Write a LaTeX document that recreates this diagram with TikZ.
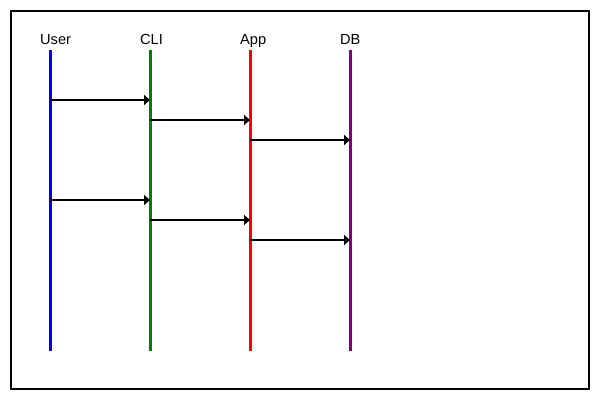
\documentclass[tikz,border=0pt]{standalone}
\usepackage{fontspec}
\setmainfont{Liberation Sans}
\usetikzlibrary{arrows.meta}
\definecolor{cligreen}{rgb}{0,0.5,0}
\definecolor{dbpurple}{rgb}{0.5,0,0.5}
\tikzset{lifeline/.style={line width=3pt},
  msg/.style={line width=2pt,-{Triangle[length=6pt,width=10pt]}},
  actor/.style={anchor=base west,inner sep=0pt,font=\fontsize{14.6}{17}\selectfont}}

\begin{document}
\begin{tikzpicture}[x=1pt,y=-1pt]
  \useasboundingbox (0,0) rectangle (600,400);
  \draw[line width=2pt] (11,11) rectangle (589,389);
  \foreach \name/\lbl/\x/\col in {user/User/50/blue,cli/CLI/150/cligreen,app/App/250/red,db/DB/350/dbpurple}{
    \node[actor] (\name) at (\x-10,44) {\lbl};
    \coordinate (\name top) at (\x,50);
    \coordinate (\name bot) at (\x,351);
    \draw[lifeline,\col] (\name top) -- (\name bot);
  }
  \foreach \a/\b/\y in {user/cli/100,cli/app/120,app/db/140,user/cli/200,cli/app/220,app/db/240}{
    \coordinate (m\y from) at (\a top |- 0,\y);
    \coordinate (m\y to) at (\b top |- 0,\y);
    \draw[msg] (m\y from) -- (m\y to);
  }
\end{tikzpicture}
\end{document}
